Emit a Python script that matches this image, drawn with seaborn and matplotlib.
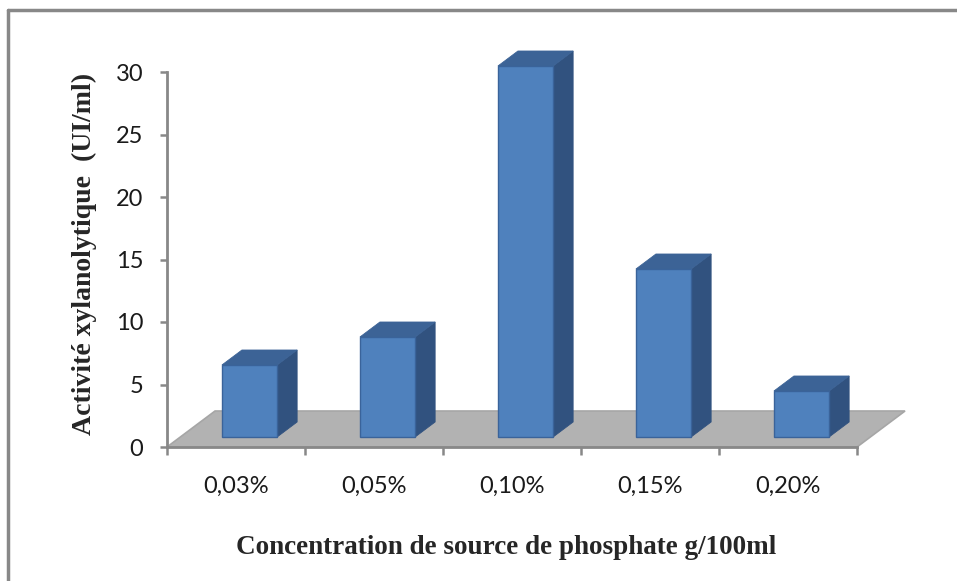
import matplotlib
matplotlib.use("Agg")
import matplotlib.pyplot as plt
import seaborn as sns
import pandas as pd
from matplotlib.patches import Polygon
from matplotlib.lines import Line2D

categories = ["0,03%", "0,05%", "0,10%", "0,15%", "0,20%"]
values = [5.76, 8.0, 29.68, 13.44, 3.68]
yticks = [0, 5, 10, 15, 20, 25, 30]
xlabel = "Concentration de source de phosphate g/100ml"
ylabel = "Activité xylanolytique  (UI/ml)"

sns.set_style("white")
plt.rcParams['font.family'] = ['Lato', 'DejaVu Sans']

W, H = 957, 581
fig = plt.figure(figsize=(W / 100, H / 100), dpi=100)
ax = fig.add_axes([167 / W, (H - 447) / H, 690 / W, 375 / H])

df = pd.DataFrame({"cat": categories, "val": values})
FRONT = "#4F81BD"
TOP = "#3C6396"
SIDE = "#31527F"
EDGE = "#3A639A"
sns.barplot(data=df, x="cat", y="val", order=categories, color=FRONT,
            width=0.4, saturation=1, ax=ax, zorder=3)

ax.set_xlim(-0.5, len(categories) - 0.5)
ax.set_ylim(0, 30)

# depth geometry (data units)
dx0, dy0 = 0.098, 0.8      # bar front face offset into the floor
dxb, dyb = 0.145, 1.2      # bar depth
dxf, dyf = 0.348, 2.88     # floor depth

x0l, x1l = ax.get_xlim()
floor = Polygon([(x0l, 0), (x1l, 0), (x1l + dxf, dyf), (x0l + dxf, dyf)],
                closed=True, facecolor="#B2B2B2", edgecolor="#A6A6A6",
                linewidth=1.2, zorder=1, clip_on=False)
ax.add_patch(floor)

for p in ax.patches:
    if p is floor:
        continue
    p.set_x(p.get_x() + dx0)
    p.set_y(dy0)
    p.set_edgecolor(EDGE)
    p.set_linewidth(1.0)
    p.set_clip_on(False)
    xa = p.get_x()
    xb = xa + p.get_width()
    ya = p.get_y()
    yb = ya + p.get_height()
    side = Polygon([(xb, ya), (xb + dxb, ya + dyb), (xb + dxb, yb + dyb), (xb, yb)],
                   closed=True, facecolor=SIDE, edgecolor=SIDE, linewidth=0.6,
                   zorder=2.9, clip_on=False)
    top = Polygon([(xa, yb), (xb, yb), (xb + dxb, yb + dyb), (xa + dxb, yb + dyb)],
                  closed=True, facecolor=TOP, edgecolor=TOP, linewidth=0.6,
                  zorder=2.9, clip_on=False)
    ax.add_patch(side)
    ax.add_patch(top)

# axes styling
for s in ["top", "right"]:
    ax.spines[s].set_visible(False)
for s in ["left", "bottom"]:
    ax.spines[s].set_color("#888888")
    ax.spines[s].set_linewidth(2.0)
    ax.spines[s].set_zorder(4)

ax.set_yticks(yticks)
ax.set_yticklabels([str(v) for v in yticks])
ax.tick_params(axis="y", direction="out", length=5, width=1.8, color="#888888",
               pad=12, labelsize=17, labelcolor="#1a1a1a", left=True)

ax.set_xticks([i - 0.5 for i in range(len(categories) + 1)])
ax.set_xticklabels([])
ax.set_xticks(list(range(len(categories))), minor=True)
ax.set_xticklabels(categories, minor=True)
ax.tick_params(axis="x", which="major", direction="out", length=6, width=1.8,
               color="#888888", bottom=True)
ax.tick_params(axis="x", which="minor", length=0, pad=21, labelsize=17,
               labelcolor="#1a1a1a")
ax.set_xlabel("")
ax.set_ylabel("")

fig.text(506 / W, 1 - 548 / H, xlabel, ha="center", va="center",
         family=["Liberation Serif"], fontweight="bold", fontsize=19.5)
fig.text(84 / W, 1 - 254 / H, ylabel, ha="center", va="center", rotation=90,
         family=["Liberation Serif"], fontweight="bold", fontsize=20)

# chart-area border (left and top edges visible)
fig.add_artist(Line2D([8 / W, 8 / W], [0, 1 - 10 / H], transform=fig.transFigure,
                      color="#888888", linewidth=2.5))
fig.add_artist(Line2D([8 / W, 1], [1 - 10 / H, 1 - 10 / H], transform=fig.transFigure,
                      color="#888888", linewidth=2.5))

fig.savefig("out.png", dpi=100)
